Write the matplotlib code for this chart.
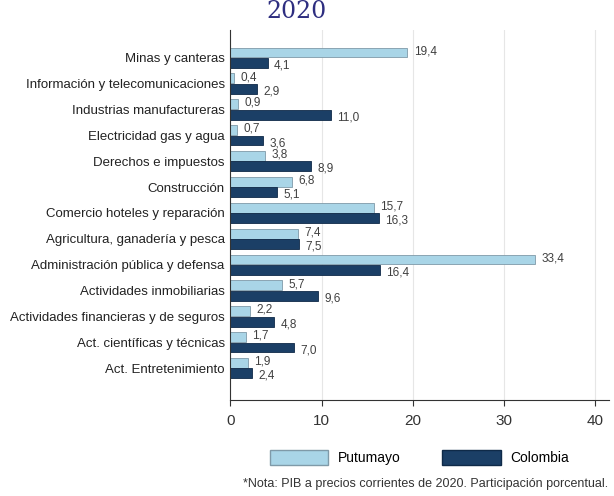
import numpy as np
import matplotlib.pyplot as plt
from matplotlib.patches import Patch

plt.rcParams['font.family'] = ['Liberation Sans', 'DejaVu Sans']

# Sectors, top to bottom
sectores = ["Minas y canteras", "Información y telecomunicaciones",
            "Industrias manufactureras", "Electricidad gas y agua",
            "Derechos e impuestos", "Construcción",
            "Comercio hoteles y reparación", "Agricultura, ganadería y pesca",
            "Administración pública y defensa", "Actividades inmobiliarias",
            "Actividades financieras y de seguros",
            "Act. científicas y técnicas", "Act. Entretenimiento"]
putumayo = [19.4, 0.4, 0.9, 0.7, 3.8, 6.8, 15.7, 7.4, 33.4, 5.7, 2.2, 1.7, 1.9]
colombia = [4.1, 2.9, 11.0, 3.6, 8.9, 5.1, 16.3, 7.5, 16.4, 9.6, 4.8, 7.0, 2.4]
xticks = [0, 10, 20, 30, 40]

c_put = "#a9d5e7"
c_col = "#1b3f66"

fig = plt.figure(figsize=(6.14, 4.96), dpi=100)
ax = fig.add_axes([0.375, 0.193, 0.617, 0.747])

y = np.arange(len(sectores))
h = 0.38
ax.barh(y - 0.2, putumayo, height=h, color=c_put, edgecolor="#7f9aa8", linewidth=0.6)
ax.barh(y + 0.2, colombia, height=h, color=c_col, edgecolor="#0f2a48", linewidth=0.6)

def fmt(v):
    return f"{v:.1f}".replace(".", ",")

for yi, p, c in zip(y, putumayo, colombia):
    ax.text(p + 0.7, yi - 0.25, fmt(p), va="center", ha="left", fontsize=8.5, color="#404040")
    ax.text(c + 0.7, yi + 0.3, fmt(c), va="center", ha="left", fontsize=8.5, color="#404040")

ax.set_yticks(y)
ax.set_yticklabels(sectores, fontsize=9.5)
ax.set_ylim(13.24, -1.08)
ax.set_xlim(0, 41.5)
ax.set_xticks(xticks)
ax.set_xticklabels([str(t) for t in xticks], fontsize=11, color="#333333")
ax.tick_params(axis="y", length=0, pad=4, colors="#222222")
ax.tick_params(axis="x", length=4, color="#333333", pad=6)
ax.xaxis.grid(True, color="#e6e6e6", linewidth=0.8)
ax.set_axisbelow(True)
for s in ["top", "right"]:
    ax.spines[s].set_visible(False)
ax.spines["left"].set_color("#333333")
ax.spines["bottom"].set_color("#333333")

handles = [Patch(facecolor=c_put, edgecolor="#7f9aa8", label="Putumayo"),
           Patch(facecolor=c_col, edgecolor="#0f2a48", label="Colombia")]
fig.legend(handles=handles, loc="center", bbox_to_anchor=(0.683, 0.077), ncol=2,
           frameon=False, fontsize=10, handlelength=4.2, handleheight=1.3,
           columnspacing=3.0, handletextpad=0.7)

fig.text(0.99, 0.024, "*Nota: PIB a precios corrientes de 2020. Participación porcentual.",
         ha="right", va="center", fontsize=9, color="#333333")
fig.text(0.483, 1.0, "2020", ha="center", va="top", fontsize=17,
         family="DejaVu Serif", color="#2e2e80")

fig.savefig("out.png", dpi=100)
